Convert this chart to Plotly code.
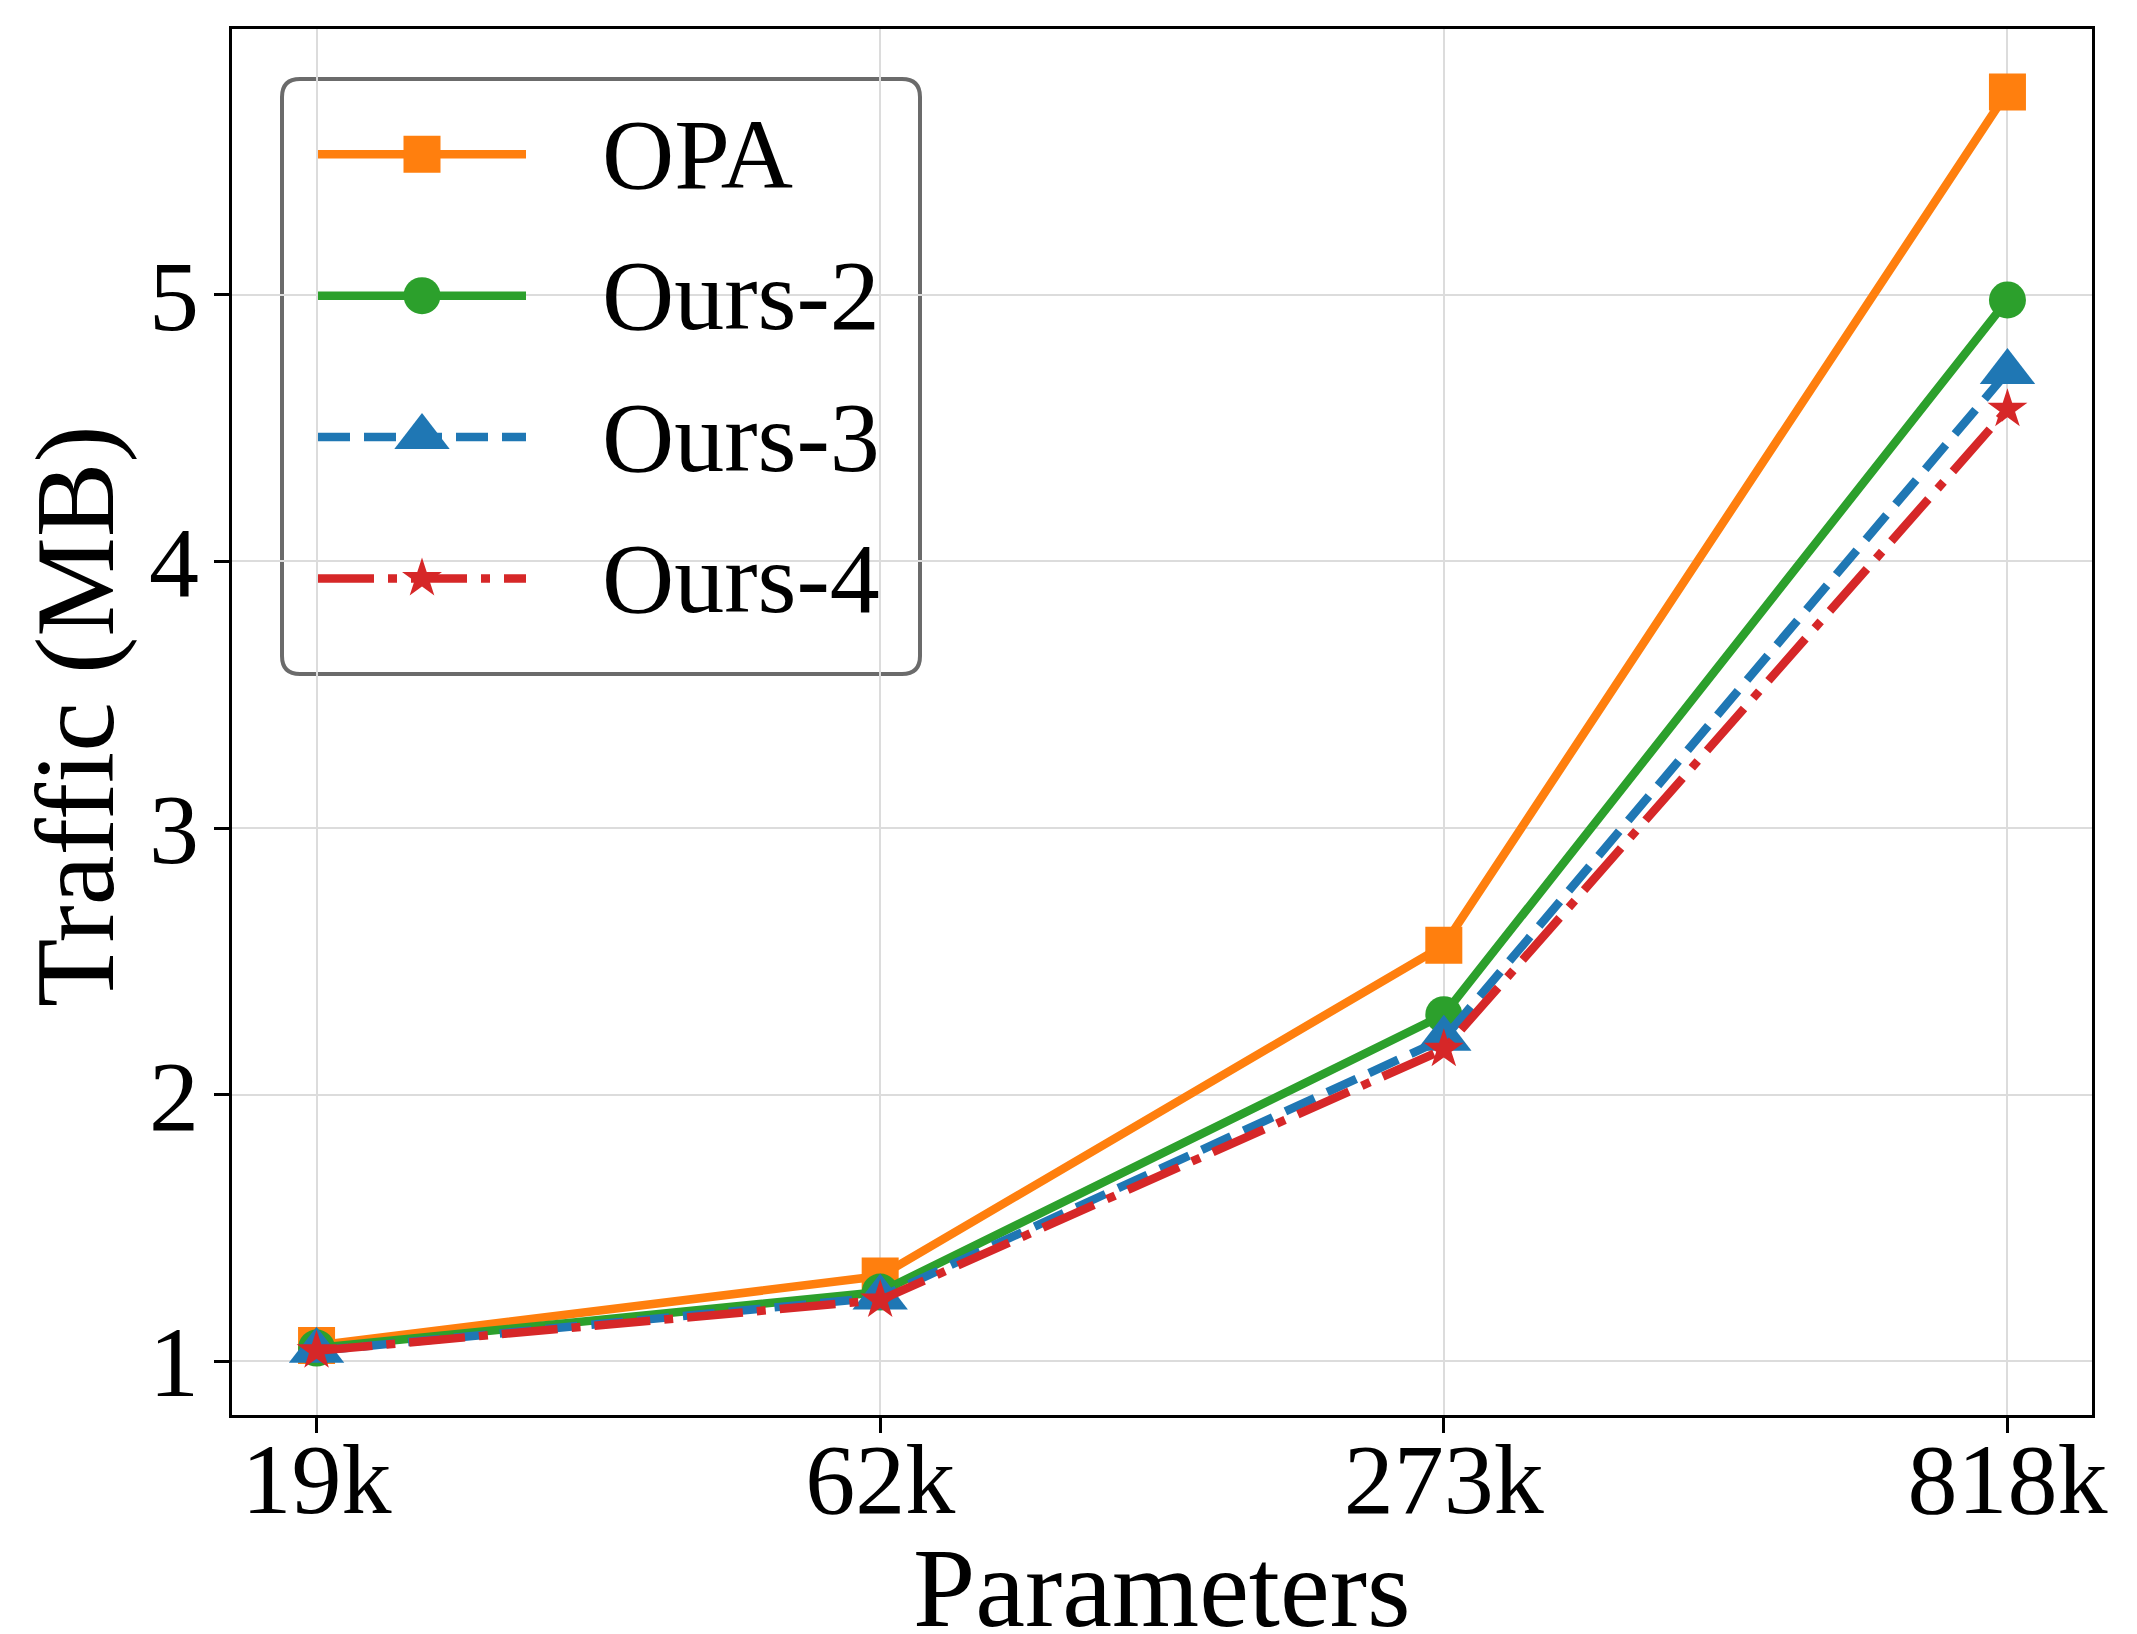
import plotly.graph_objects as go

# ---------------- data ----------------
params = ["19k", "62k", "273k", "818k"]
opa = [1.06, 1.32, 2.56, 5.76]
ours2 = [1.05, 1.26, 2.30, 4.98]
ours3 = [1.04, 1.24, 2.21, 4.71]
ours4 = [1.04, 1.23, 2.17, 4.57]
series_names = ["OPA", "Ours-2", "Ours-3", "Ours-4"]
y_ticks = [1, 2, 3, 4, 5]
x_title = "Parameters"
y_title = "Traffic (MB)"

# ---------------- styles ----------------
W, H = 2137, 1634
L, R, T, B = 232, 2092, 29, 1415          # plot area in pixels
FONT = "Liberation Serif, Times New Roman, serif"
LW = 8.5
styles = [
    dict(color="#ff7f0e", dash="solid", symbol="square", size=37),
    dict(color="#2ca02c", dash="solid", symbol="circle", size=37),
    dict(color="#1f77b4", dash="32px,14px", symbol="triangle-up", size=48),
    dict(color="#d62728", dash="56px,14px,9px,14px", symbol="star", size=30),
]
values = [opa, ours2, ours3, ours4]


def px_x(px):
    return (px - L) / (R - L)


def px_y(py):
    return (B - py) / (B - T)


fig = go.Figure()
for name, ys, st in zip(series_names, values, styles):
    fig.add_trace(go.Scatter(
        x=params, y=ys, name=name, mode="lines+markers",
        line=dict(color=st["color"], width=LW, dash=st["dash"]),
        marker=dict(symbol=st["symbol"], size=st["size"], color=st["color"],
                    line=dict(width=0)),
        showlegend=False,
    ))

# ---------------- custom legend (pixel-space overlay axes) ----------------
box = dict(x0=282, x1=920, y0=79, y1=674, r=18)
row0, row_gap = 154.3, 141.4
line_x0, line_x1, mark_x, text_x = 318, 526, 422, 600

for i, (name, st) in enumerate(zip(series_names, styles)):
    yy = row0 + i * row_gap
    fig.add_trace(go.Scatter(
        x=[line_x0, line_x1], y=[yy, yy], mode="lines",
        line=dict(color=st["color"], width=LW, dash=st["dash"]),
        xaxis="x2", yaxis="y2", showlegend=False, hoverinfo="skip",
    ))
    fig.add_trace(go.Scatter(
        x=[mark_x], y=[yy], mode="markers",
        marker=dict(symbol=st["symbol"], size=st["size"], color=st["color"],
                    line=dict(width=0)),
        xaxis="x2", yaxis="y2", showlegend=False, hoverinfo="skip",
    ))
    fig.add_annotation(
        x=text_x, y=yy, xref="x2", yref="y2", text=name, showarrow=False,
        xanchor="left", yanchor="middle",
        font=dict(family=FONT, size=100, color="black"),
    )

x0, x1, y0, y1, r = box["x0"], box["x1"], box["y0"], box["y1"], box["r"]
path = (f"M{x0+r},{y0} H{x1-r} Q{x1},{y0} {x1},{y0+r} V{y1-r} Q{x1},{y1} {x1-r},{y1} "
        f"H{x0+r} Q{x0},{y1} {x0},{y1-r} V{y0+r} Q{x0},{y0} {x0+r},{y0} Z")
fig.add_shape(type="path", path=path, xref="x2", yref="y2",
              line=dict(color="#6b6b6b", width=4),
              fillcolor="rgba(255,255,255,0.8)", layer="below")

# ---------------- axis titles ----------------
fig.add_annotation(
    x=0.5, y=px_y(1588), xref="paper", yref="paper", text=x_title, showarrow=False,
    xanchor="center", yanchor="middle",
    font=dict(family=FONT, size=112, color="black"),
)
fig.add_annotation(
    x=px_x(75), y=px_y(716), xref="paper", yref="paper", text=y_title, showarrow=False,
    xanchor="center", yanchor="middle", textangle=-90,
    font=dict(family=FONT, size=112, color="black"),
)

# ---------------- layout ----------------
fig.update_layout(
    width=W, height=H,
    margin=dict(l=L, r=W - R, t=T, b=H - B, pad=0),
    paper_bgcolor="white", plot_bgcolor="white",
    font=dict(family=FONT, color="black"),
    xaxis=dict(
        type="category", range=[-0.15, 3.15], automargin=False,
        showline=True, linecolor="black", linewidth=3, mirror=True,
        ticks="outside", ticklen=15, tickwidth=3, tickcolor="black",
        ticklabelstandoff=-40,
        tickfont=dict(family=FONT, size=100, color="black"),
        showgrid=True, gridcolor="#dcdcdc", gridwidth=1.5,
        zeroline=False,
    ),
    yaxis=dict(
        range=[0.799, 5.996], tickvals=y_ticks, automargin=False,
        showline=True, linecolor="black", linewidth=3, mirror=True,
        ticks="outside", ticklen=15, tickwidth=3, tickcolor="black",
        ticklabelstandoff=-5,
        tickfont=dict(family=FONT, size=100, color="black"),
        showgrid=True, gridcolor="#dcdcdc", gridwidth=1.5,
        zeroline=False,
    ),
    xaxis2=dict(overlaying="x", range=[L, R], visible=False, fixedrange=True),
    yaxis2=dict(overlaying="y", range=[B, T], visible=False, fixedrange=True),
)

fig.write_html("out.html")
